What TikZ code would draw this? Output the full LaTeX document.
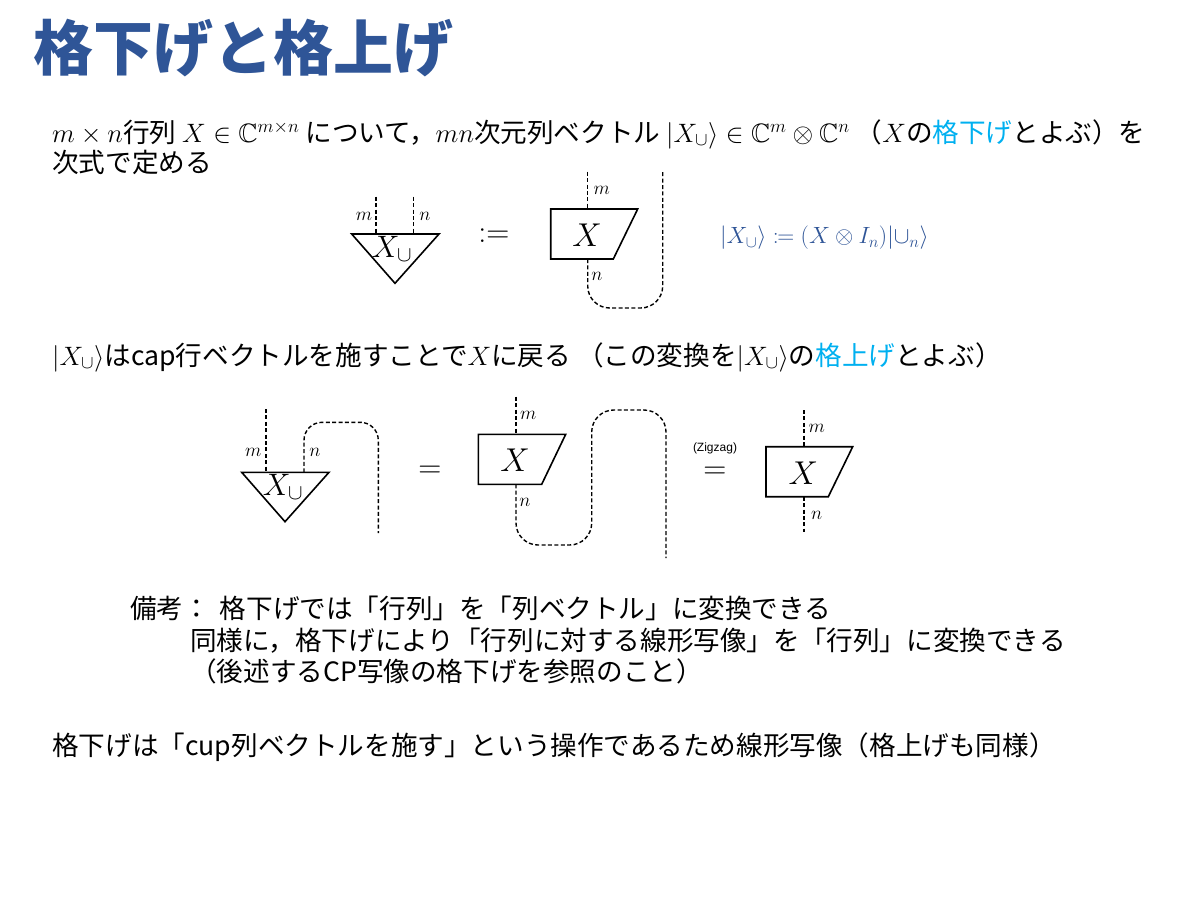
\RequirePackage{fix-cm}
\documentclass[tikz,border=0pt]{standalone}
\usepackage{amsmath,amssymb,mathtools}
\usepackage{fontspec}
\setmainfont{Noto Sans CJK JP}
\newfontfamily\arialf{Liberation Sans}
\definecolor{titleblue}{HTML}{2F5597}
\definecolor{cyanc}{HTML}{00B0F0}
\definecolor{fblue}{HTML}{2F5597}
\tikzset{
  wire/.style={dash pattern=on 4pt off 2.4pt, line width=1.4pt},
  shp/.style={line width=1.6pt, line join=miter},
  lab/.style={font=\fontsize{19}{19}\selectfont, inner sep=0pt},
  bigx/.style={font=\fontsize{33}{33}\selectfont, inner sep=0pt},
  txt/.style={anchor=base west, inner sep=0pt, font=\fontsize{26.6}{30}\selectfont},
}
\begin{document}
\begin{tikzpicture}[x=1pt,y=-1pt]
\useasboundingbox (0,0) rectangle (1200,900);
% title
\node[anchor=base west, inner sep=0pt, text=titleblue, font=\fontsize{60}{62}\selectfont\bfseries] (title) at (33,70) {格下げと格上げ};
% line 1
\node[txt] (l1) at (52,142) {$m\times n$行列 $X\in\mathbb{C}^{m\times n}$ について，$mn$次元列ベクトル $|X_{\cup}\rangle\in\mathbb{C}^{m}\otimes\mathbb{C}^{n}$ （$X$の\textcolor{cyanc}{格下げ}とよぶ）を};
\node[txt] (l2) at (52,172) {次式で定める};
% ---------- diagram 1 ----------
\coordinate (t1l) at (351.7,234); \coordinate (t1r) at (439,234); \coordinate (t1a) at (395,283.3);
\draw[shp] (t1l) -- (t1r) -- (t1a) -- cycle;
\node[bigx, font=\fontsize{31}{31}\selectfont] (x1) at (392,249) {$X_{\cup}$};
\coordinate (w1a) at (376,196.7); \coordinate (w1b) at (376,234);
\coordinate (w2a) at (413.3,196.7); \coordinate (w2b) at (413.3,234);
\draw[wire] (w1a) -- (w1b);
\draw[wire] (w2a) -- (w2b);
\node[lab] (m1) at (364,216.7) {$m$};
\node[lab] (n1) at (425,216.7) {$n$};
\node[font=\fontsize{32}{32}\selectfont, inner sep=0pt] (def) at (494,236) {$\mathrel{:}\mathrel{=}$};
\coordinate (b1a) at (550.7,209); \coordinate (b1b) at (637.7,209); \coordinate (b1c) at (613.3,259); \coordinate (b1d) at (550.7,259);
\draw[shp] (b1a) -- (b1b) -- (b1c) -- (b1d) -- cycle;
\node[bigx] (bx1) at (587,235) {$X$};
\coordinate (u1a) at (587.7,171.7); \coordinate (u1b) at (587.7,209);
\draw[wire] (u1a) -- (u1b);
\node[lab] (m2) at (601.7,190) {$m$};
\coordinate (c1a) at (587.7,259); \coordinate (c1b) at (587.7,308); \coordinate (c1c) at (662.7,308); \coordinate (c1d) at (662.7,171.7);
\draw[wire, rounded corners=22pt] (c1a) -- (c1b) -- (c1c) -- (c1d);
\node[lab] (n2) at (597,276) {$n$};
\node[anchor=west, inner sep=0pt, text=fblue, font=\fontsize{23.5}{23.5}\selectfont] (form) at (720,238) {$|X_{\cup}\rangle\coloneqq(X\otimes I_n)|{\cup}_n\rangle$};
% line 3
\node[txt] (l3) at (52,365) {$|X_{\cup}\rangle$はcap行ベクトルを施すことで$X$に戻る （この変換を$|X_{\cup}\rangle$の\textcolor{cyanc}{格上げ}とよぶ）};
% ---------- diagram 2 ----------
\coordinate (t2l) at (241.7,472.3); \coordinate (t2r) at (329,472.3); \coordinate (t2a) at (285,521.7);
\draw[shp] (t2l) -- (t2r) -- (t2a) -- cycle;
\node[bigx, font=\fontsize{31}{31}\selectfont] (x2) at (283,487) {$X_{\cup}$};
\coordinate (v1a) at (266,409); \coordinate (v1b) at (266,472.3);
\draw[wire] (v1a) -- (v1b);
\node[lab] (m3) at (253.3,452.3) {$m$};
\coordinate (k1a) at (304,472.3); \coordinate (k1b) at (304,422.3); \coordinate (k1c) at (378.3,422.3); \coordinate (k1d) at (378.3,533);
\draw[wire, rounded corners=18pt] (k1a) -- (k1b) -- (k1c) -- (k1d);
\node[lab] (n3) at (315,452.3) {$n$};
\node[font=\fontsize{32}{32}\selectfont, inner sep=0pt] (eq1) at (430,472) {$=$};
\coordinate (b2a) at (478.3,434.3); \coordinate (b2b) at (565.7,434.3); \coordinate (b2c) at (541.7,484.3); \coordinate (b2d) at (478.3,484.3);
\draw[shp] (b2a) -- (b2b) -- (b2c) -- (b2d) -- cycle;
\node[bigx] (bx2) at (515,460) {$X$};
\coordinate (u2a) at (516,396.7); \coordinate (u2b) at (516,434.3);
\draw[wire] (u2a) -- (u2b);
\node[lab] (m4) at (528.3,415.7) {$m$};
\coordinate (z1) at (516,484.3); \coordinate (z2) at (516,545); \coordinate (z3) at (591.7,545); \coordinate (z4) at (591.7,410); \coordinate (z5) at (666,410); \coordinate (z6) at (666,558);
\draw[wire, rounded corners=22pt] (z1) -- (z2) -- (z3) -- (z4) -- (z5) -- (z6);
\node[lab] (n4) at (525,502.3) {$n$};
\node[inner sep=0pt, font=\arialf\fontsize{12}{12}\selectfont] (zz) at (715,448) {(Zigzag)};
\node[font=\fontsize{32}{32}\selectfont, inner sep=0pt] (eq2) at (715,472.7) {$=$};
\coordinate (b3a) at (766,446.7); \coordinate (b3b) at (852.7,446.7); \coordinate (b3c) at (828.3,496.7); \coordinate (b3d) at (766,496.7);
\draw[shp] (b3a) -- (b3b) -- (b3c) -- (b3d) -- cycle;
\node[bigx] (bx3) at (803.3,473) {$X$};
\coordinate (u3a) at (804,410); \coordinate (u3b) at (804,446.7);
\draw[wire] (u3a) -- (u3b);
\node[lab] (m5) at (816.7,428.3) {$m$};
\coordinate (d3a) at (804,496.7); \coordinate (d3b) at (804,531.7);
\draw[wire] (d3a) -- (d3b);
\node[lab] (n5) at (816.7,515.7) {$n$};
% remarks
\node[txt] (r1) at (130,618) {備考：\hspace{10pt}格下げでは「行列」を「列ベクトル」に変換できる};
\node[txt] (r2) at (190,650) {同様に，格下げにより「行列に対する線形写像」を「行列」に変換できる};
\node[txt] (r3) at (190,681) {（後述するCP写像の格下げを参照のこと）};
\node[txt] (r4) at (52,755) {格下げは「cup列ベクトルを施す」という操作であるため線形写像（格上げも同様）};
\end{tikzpicture}
\end{document}
